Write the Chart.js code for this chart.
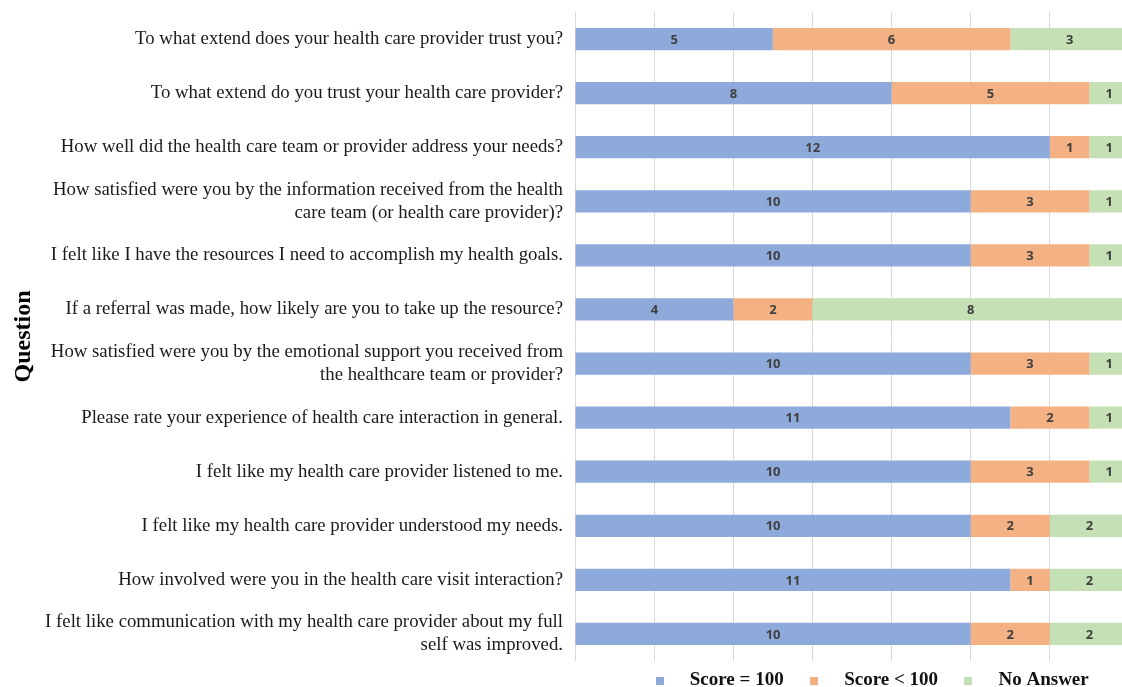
<!DOCTYPE html>
<html lang="en">
<head>
  <meta charset="UTF-8" />
  <title>Survey responses by question</title>
  <style>
    html, body { margin: 0; padding: 0; background: #fff; overflow: hidden; }
    /* the figure is cropped a little on the right and bottom */
    #wrap { position: relative; width: 1129px; height: 700px; }
  </style>
</head>
<body>
  <div id="wrap"><canvas id="chart"></canvas></div>

  <script src="https://cdn.jsdelivr.net/npm/chart.js"></script>
  <script>
    // questions (top to bottom)
    const questions = [
      'To what extend does your health care provider trust you?',
      'To what extend do you trust your health care provider?',
      'How well did the health care team or provider address your needs?',
      ['How satisfied were you by the information received from the health', 'care team (or health care provider)?'],
      'I felt like I have the resources I need to accomplish my health goals.',
      'If a referral was made, how likely are you to take up the resource?',
      ['How satisfied were you by the emotional support you received from', 'the healthcare team or provider?'],
      'Please rate your experience of health care interaction in general.',
      'I felt like my health care provider listened to me.',
      'I felt like my health care provider understood my needs.',
      'How involved were you in the health care visit interaction?',
      ['I felt like communication with my health care provider about my full', 'self was improved.']
    ];

    const seriesNames = ['Score = 100', 'Score < 100', 'No Answer'];
    const score100 = [5, 8, 12, 10, 10, 4, 10, 11, 10, 10, 11, 10];
    const scoreBelow = [6, 5, 1, 3, 3, 2, 3, 2, 3, 2, 1, 2];
    const noAnswer = [3, 1, 1, 1, 1, 8, 1, 1, 1, 2, 2, 2];

    const colors = ['#8eaadb', '#f4b183', '#c5e0b4'];

    // small square used as legend marker
    function square(color) {
      const c = document.createElement('canvas');
      c.width = 8; c.height = 8;
      const g = c.getContext('2d');
      g.fillStyle = color;
      g.fillRect(0, 0, 8, 8);
      return c;
    }

    // numbers in the middle of each segment
    const segmentLabels = {
      id: 'segmentLabels',
      afterDatasetsDraw(chart) {
        const ctx = chart.ctx;
        ctx.save();
        ctx.font = 'bold 13px "Noto Sans", sans-serif';
        ctx.fillStyle = '#404040';
        ctx.textAlign = 'center';
        ctx.textBaseline = 'middle';
        chart.data.datasets.forEach((ds, i) => {
          chart.getDatasetMeta(i).data.forEach((bar, j) => {
            const p = bar.getCenterPoint();
            ctx.fillText(ds.data[j], p.x, p.y + 1);
          });
        });
        ctx.restore();
      }
    };

    // legend sits a bit right of the plot centre in the original
    const nudgeLegend = {
      id: 'nudgeLegend',
      afterLayout(chart) {
        chart.legend.left += 12;
        chart.legend.right += 12;
      }
    };

    const serif = '"Liberation Serif", "Times New Roman", serif';

    new Chart(document.getElementById('chart'), {
      type: 'bar',
      data: {
        labels: questions,
        datasets: [score100, scoreBelow, noAnswer].map((d, i) => ({
          label: seriesNames[i],
          data: d,
          backgroundColor: colors[i],
          borderWidth: 0,
          categoryPercentage: 1,
          barPercentage: 0.41,
          pointStyle: square(colors[i])
        }))
      },
      options: {
        indexAxis: 'y',
        responsive: true,
        maintainAspectRatio: false,
        animation: false,
        layout: { padding: { top: 12, right: 0, bottom: 0, left: 0 } },
        scales: {
          x: {
            stacked: true,
            min: 0,
            max: 14,
            ticks: { display: false, stepSize: 2 },
            grid: { color: '#d9d9d9', drawTicks: false },
            border: { display: false }
          },
          y: {
            stacked: true,
            afterFit(scale) {
              scale.width = 575;
              scale.paddingTop = 0;
              scale.paddingBottom = 0;
            },
            ticks: {
              color: '#1a1a1a',
              padding: 12,
              font: { family: serif, size: 18.8, lineHeight: 1.22 }
            },
            grid: { display: false, drawTicks: false },
            border: { display: false },
            title: {
              display: true,
              text: 'Question',
              color: '#000',
              padding: { top: 9, bottom: 0 },
              font: { family: serif, size: 24, weight: 'bold' }
            }
          }
        },
        plugins: {
          tooltip: { enabled: false },
          legend: {
            position: 'bottom',
            fullSize: false,
            labels: {
              usePointStyle: true,
              pointStyleWidth: 41,
              padding: 10,
              color: '#111',
              font: { family: serif, size: 19, weight: 'bold' }
            }
          }
        }
      },
      plugins: [segmentLabels, nudgeLegend]
    });
  </script>
</body>
</html>
